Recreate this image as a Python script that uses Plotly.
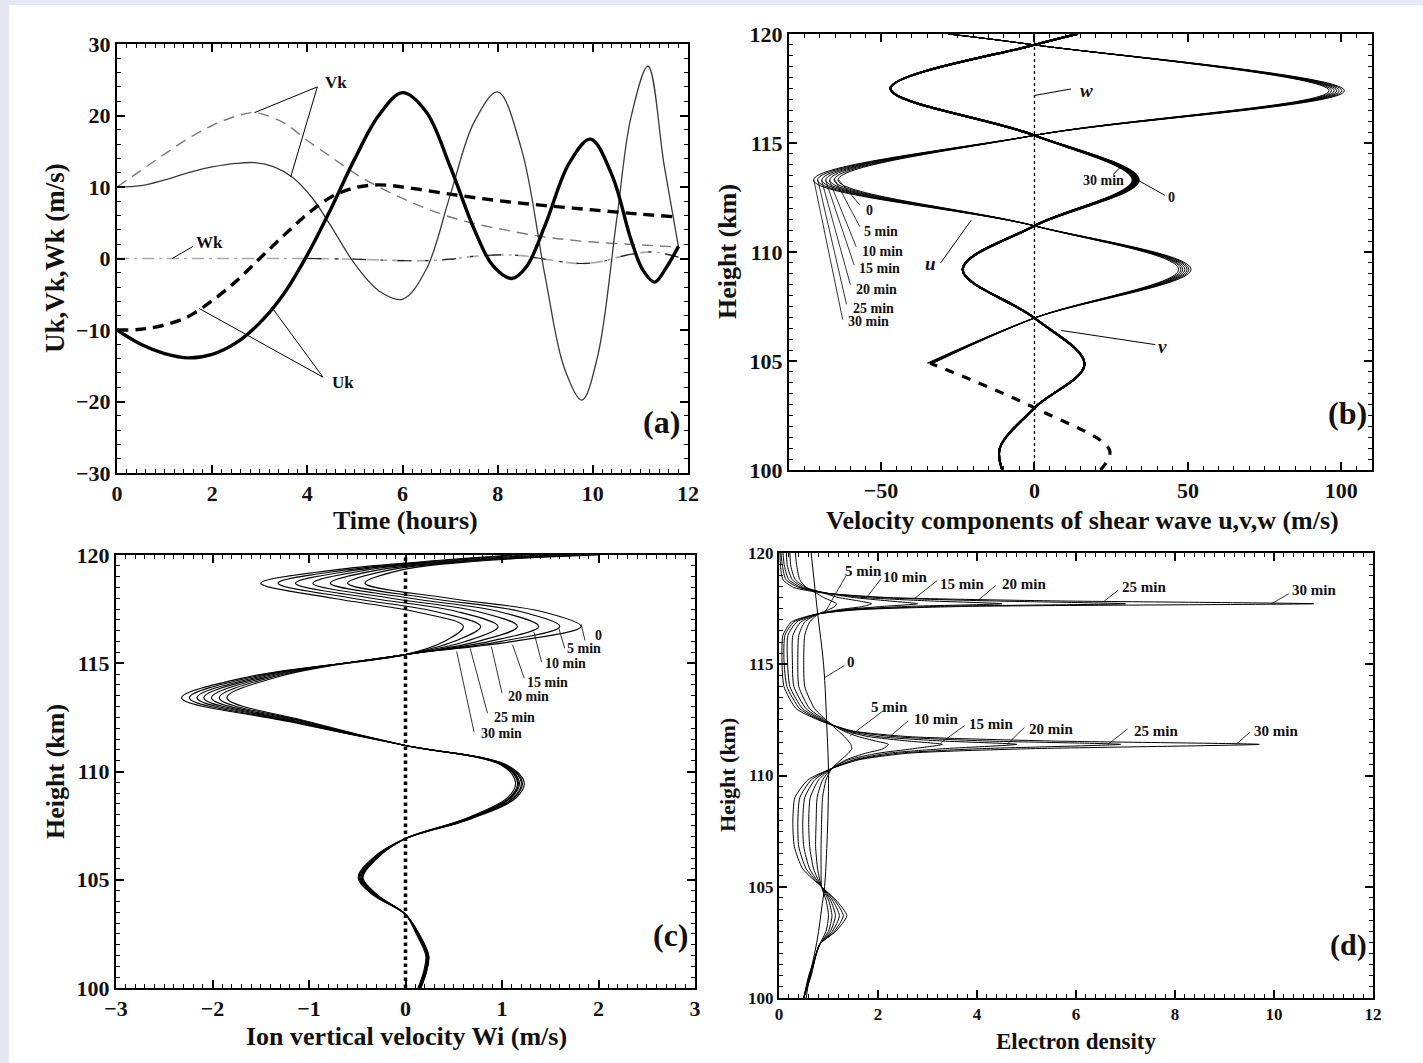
import plotly.graph_objects as go

W, H = 1423, 1063
FONT = "Liberation Serif"

# ---------------- panel (a) data ----------------
t_uk = [0, 0.5, 1, 1.5, 2, 2.5, 3, 3.5, 4, 4.5, 5, 5.5, 6, 6.5, 7, 7.5, 7.9, 8.3, 8.6, 9.0, 9.5, 9.95, 10.4, 10.8, 11.05, 11.3, 11.55, 11.8]
uk_solid = [-10, -12, -13.3, -13.9, -13.4, -11.8, -9, -5, 0.5, 7, 14, 20, 23.2, 20.5, 12.9, 4.2, -1, -2.8, -1.2, 4.7, 13.3, 16.7, 11.7, 2.7, -1.6, -3.3, -1.2, 1.7]

t_vk = [0, 0.5, 1, 1.5, 2, 2.5, 2.9, 3.3, 3.7, 4.1, 4.5, 5, 5.5, 6, 6.5, 7, 7.5, 8, 8.5, 9, 9.4, 9.77, 10.1, 10.5, 10.8, 11.16, 11.5, 11.8]
vk_solid = [10, 10.2, 11, 12, 12.8, 13.3, 13.4, 12.8, 11.3, 8.5, 4.5, -0.8, -4.5, -5.7, -1.5, 8.8, 19, 23.3, 15.3, -2.6, -15.3, -19.8, -13.7, 5.4, 19.7, 26.9, 13, 1.6]

t_vkd = [0, 0.5, 1, 1.5, 2, 2.5, 2.9, 3.5, 4, 4.5, 5, 5.5, 6, 6.5, 7, 7.5, 8, 9, 10, 11, 11.8]
vk_dashed = [10, 12.3, 14.6, 16.8, 18.6, 19.9, 20.4, 19, 16.5, 14.2, 11.9, 10, 8.4, 7, 5.8, 4.9, 4.2, 3.0, 2.3, 1.9, 1.6]

t_ukd = [0, 0.5, 1, 1.5, 2, 2.5, 3, 3.5, 4, 4.5, 5, 5.5, 6, 7, 8, 9, 10, 11, 11.8]
uk_dashed = [-10, -9.9, -9.3, -8.1, -5.9, -3.2, 0.0, 3.2, 6.2, 8.6, 9.9, 10.3, 10.0, 9.0, 8.1, 7.4, 6.8, 6.2, 5.8]

t_wk = [0, 1, 2, 3, 4, 5, 6, 6.5, 7, 7.5, 8, 8.5, 9, 9.4, 9.8, 10.2, 10.6, 11.0, 11.3, 11.8]
wk = [0, 0, 0, 0, 0, -0.1, -0.3, -0.3, -0.1, 0.3, 0.5, 0.4, -0.1, -0.5, -0.7, -0.4, 0.3, 0.8, 0.9, 0.2]

# ---------------- panel (b) data ----------------
times = ["0", "5 min", "10 min", "15 min", "20 min", "25 min", "30 min"]
hb_u = [104.9, 106.97, 109.2, 111.2, 113.3, 115.35, 117.4, 119.5, 120.0]
u_tip_105 = [-33, -33.3, -33.6, -34, -34.3, -34.6, -35]
u_tip_109 = [47, 47.7, 48.3, 49, 49.7, 50.3, 51]
u_tip_113 = [-64, -65.3, -66.7, -68, -69.3, -70.7, -72]
u_tip_117 = [96, 96.8, 97.7, 98.5, 99.3, 100.2, 101]
u_top = -28
hb_ud = [100.0, 100.9, 102.85, 104.9]
u_bottom = [21.5, 24.5, 0, -34]

hb_v = [100.0, 101.0, 102.85, 104.85, 106.97, 109.2, 111.2, 113.3, 115.35, 117.5, 119.5, 120.0]
v_base = [-10.5, -11.3, 0, 16.3, 0, -23.4, 0, 33.0, 0, -46.9, 0, 14]
v_tip_113 = [34, 33.7, 33.3, 33, 32.7, 32.3, 32]

# ---------------- panel (c) data ----------------
h_c = [100.0, 100.8, 101.5, 102.5, 103.4, 104.3, 105.1, 106.0, 106.9, 107.8, 108.8, 109.5, 110.3,
       111.2, 112.3, 113.4, 114.4, 115.4, 116.0, 116.7, 117.4, 118.0, 118.7, 119.3, 119.7, 120.0]
c_t0 = [0.13, 0.19, 0.21, 0.11, 0.0, -0.29, -0.44, -0.29, 0.0, 0.61, 1.06, 1.14, 0.99, 0.0, -1.0, -1.85, -1.30, 0.0, 1.10, 1.82, 1.40, 0.45, -0.42, -0.05, 0.70, 2.00]
c_t5 = [0.14, 0.20, 0.22, 0.12, 0.0, -0.30, -0.45, -0.30, 0.0, 0.62, 1.08, 1.16, 1.0, 0.0, -1.03, -1.93, -1.35, 0.0, 0.98, 1.60, 1.18, 0.25, -0.60, -0.17, 0.62, 1.85]
c_t10 = [0.14, 0.20, 0.22, 0.12, 0.0, -0.30, -0.45, -0.30, 0.0, 0.63, 1.09, 1.17, 1.01, 0.0, -1.07, -2.01, -1.40, 0.0, 0.86, 1.38, 0.96, 0.05, -0.78, -0.29, 0.53, 1.70]
c_t15 = [0.15, 0.21, 0.23, 0.13, 0.0, -0.31, -0.46, -0.31, 0.0, 0.64, 1.10, 1.18, 1.02, 0.0, -1.10, -2.09, -1.45, 0.0, 0.74, 1.16, 0.74, -0.15, -0.96, -0.41, 0.45, 1.55]
c_t20 = [0.15, 0.21, 0.23, 0.13, 0.0, -0.32, -0.47, -0.32, 0.0, 0.65, 1.12, 1.20, 1.03, 0.0, -1.13, -2.16, -1.50, 0.0, 0.62, 0.96, 0.52, -0.35, -1.14, -0.52, 0.37, 1.40]
c_t25 = [0.16, 0.22, 0.24, 0.14, 0.0, -0.33, -0.48, -0.33, 0.0, 0.66, 1.13, 1.21, 1.04, 0.0, -1.17, -2.24, -1.55, 0.0, 0.50, 0.78, 0.30, -0.55, -1.32, -0.63, 0.29, 1.25]
c_t30 = [0.16, 0.22, 0.24, 0.14, 0.0, -0.34, -0.49, -0.34, 0.0, 0.67, 1.15, 1.23, 1.05, 0.0, -1.20, -2.32, -1.60, 0.0, 0.40, 0.60, 0.08, -0.75, -1.50, -0.75, 0.20, 1.10]

# ---------------- panel (d) data ----------------
h_d0 = [100, 101, 102, 103, 104, 105, 107, 110, 112, 115, 117.3, 120]
d_t0 = [0.55, 0.62, 0.72, 0.80, 0.86, 0.92, 0.97, 1.0, 0.97, 0.90, 0.78, 0.65]
h_d = [100.0, 101.0, 102.4, 103.0, 103.7, 104.4, 105.0, 105.8, 106.8, 107.9, 109.0, 109.8, 110.3, 110.7,
       111.0, 111.2, 111.4, 111.55, 111.75, 112.0, 112.4, 113.0, 114.0, 115.2, 116.3, 116.9, 117.25,
       117.45, 117.6, 117.72, 117.85, 118.0, 118.2, 118.45, 118.8, 119.4, 120.0]
d_t5 = [0.50, 0.60, 0.82, 0.95, 1.00, 0.95, 0.86, 0.85, 0.85, 0.86, 0.88, 0.95, 1.06, 1.25, 1.4, 1.47, 1.45, 1.4, 1.32, 1.2, 1.0, 0.72, 0.52, 0.50, 0.52, 0.62, 0.79, 1.0, 1.13, 1.16, 1.05, 0.9, 0.75, 0.55, 0.42, 0.36, 0.33]
d_t10 = [0.50, 0.61, 0.82, 1.00, 1.07, 1.00, 0.86, 0.78, 0.74, 0.75, 0.77, 0.88, 1.06, 1.35, 1.75, 2.1, 2.21, 1.95, 1.6, 1.3, 1.0, 0.62, 0.40, 0.38, 0.40, 0.52, 0.78, 1.2, 1.7, 1.87, 1.6, 1.2, 0.9, 0.55, 0.33, 0.24, 0.22]
d_t15 = [0.50, 0.62, 0.82, 1.04, 1.14, 1.04, 0.86, 0.70, 0.62, 0.60, 0.63, 0.80, 1.05, 1.4, 2.0, 2.7, 3.3, 2.6, 1.8, 1.35, 0.97, 0.55, 0.30, 0.27, 0.28, 0.44, 0.78, 1.3, 2.1, 2.8, 2.2, 1.5, 0.95, 0.50, 0.27, 0.17, 0.15]
d_t20 = [0.50, 0.63, 0.82, 1.08, 1.22, 1.08, 0.86, 0.62, 0.50, 0.48, 0.52, 0.72, 1.05, 1.5, 2.2, 3.3, 4.8, 3.3, 2.0, 1.4, 0.95, 0.48, 0.22, 0.17, 0.18, 0.36, 0.77, 1.4, 2.6, 4.5, 3.0, 1.7, 0.95, 0.45, 0.2, 0.11, 0.08]
d_t25 = [0.50, 0.64, 0.82, 1.12, 1.30, 1.12, 0.86, 0.55, 0.40, 0.38, 0.42, 0.65, 1.05, 1.55, 2.4, 4.0, 6.9, 4.2, 2.3, 1.45, 0.92, 0.42, 0.16, 0.10, 0.12, 0.30, 0.76, 1.5, 3.2, 7.0, 4.2, 2.0, 0.95, 0.40, 0.14, 0.07, 0.04]
d_t30 = [0.50, 0.65, 0.82, 1.15, 1.37, 1.15, 0.86, 0.48, 0.31, 0.28, 0.32, 0.58, 1.05, 1.6, 2.6, 5.0, 9.7, 5.5, 2.6, 1.5, 0.9, 0.35, 0.1, 0.06, 0.08, 0.25, 0.75, 1.6, 3.8, 10.8, 5.5, 2.2, 0.9, 0.3, 0.08, 0.03, 0.02]

# ---------------- figure ----------------
fig = go.Figure()


def fx(px):
    return px / W


def fy(py):
    return 1 - py / H


def add_line(x, y, xa, ya, color="black", width=1.0, dash="solid", shape="spline", smoothing=1.0):
    fig.add_trace(go.Scatter(x=x, y=y, xaxis=xa, yaxis=ya, mode="lines",
                             line=dict(color=color, width=width, dash=dash, shape=shape, smoothing=smoothing),
                             showlegend=False, hoverinfo="skip"))


# (a)
add_line(t_wk, wk, "x", "y", color="#a8a8a8", width=1.6, dash="12px,5px,3px,5px")
add_line(t_wk[4:], wk[4:], "x", "y", color="#222222", width=1.2, dash="14px,14px,3px,14px")
add_line(t_vkd, vk_dashed, "x", "y", color="#7a7a7a", width=1.4, dash="11px,7px")
add_line(t_vk, vk_solid, "x", "y", color="#3a3a3a", width=1.3)
add_line(t_ukd, uk_dashed, "x", "y", color="black", width=3.4, dash="11px,7px")
add_line(t_uk, uk_solid, "x", "y", color="black", width=3.4)

# (b)
add_line([0, 0], [100, 120], "x2", "y2", color="black", width=1.3, dash="dot", shape="linear")
for i in range(len(times)):
    vv = list(v_base)
    vv[7] = v_tip_113[i]
    add_line(vv, hb_v, "x2", "y2", color="black", width=2.0)
for i in range(len(times)):
    uu = [u_tip_105[i], 0, u_tip_109[i], 0, u_tip_113[i], 0, u_tip_117[i], 0, u_top]
    add_line(uu, hb_u, "x2", "y2", color="black", width=1.0)
add_line(u_bottom, hb_ud, "x2", "y2", color="black", width=3.2, dash="9px,9px")

# (c)
add_line([0, 0], [100, 120], "x3", "y3", color="black", width=3.5, dash="dot", shape="linear")
for cv in [c_t0, c_t5, c_t10, c_t15, c_t20, c_t25, c_t30]:
    add_line(cv, h_c, "x3", "y3", color="black", width=1.1)

# (d)
add_line(d_t0, h_d0, "x4", "y4", color="black", width=1.0)
for dv in [d_t5, d_t10, d_t15, d_t20, d_t25, d_t30]:
    add_line(dv, h_d, "x4", "y4", color="black", width=1.0, smoothing=0.6)


def axis(dom, rng, dtick, minor_dtick, fsize, anchor):
    return dict(domain=dom, range=rng, dtick=dtick, tick0=0, anchor=anchor, automargin=False,
                showline=True, linecolor="black", linewidth=2, mirror="ticks",
                ticks="inside", ticklen=8, tickwidth=1.5, tickcolor="black",
                showgrid=False, zeroline=False, fixedrange=True,
                minor=dict(ticks="inside", ticklen=4, dtick=minor_dtick, tickcolor="black",
                           tickwidth=1, showgrid=False),
                tickfont=dict(family=FONT, size=fsize, color="#111111", weight="bold"))


fig.update_layout(
    template="none",
    width=W, height=H, autosize=False,
    margin=dict(l=0, r=0, t=0, b=0, pad=0, autoexpand=False),
    paper_bgcolor="#e5e7f3", plot_bgcolor="white",
    xaxis=axis([fx(117), fx(688)], [0, 12], 2, 0.2, 22, "y"),
    yaxis=axis([fy(473), fy(44)], [-30, 30], 10, 2, 22, "x"),
    xaxis2=axis([fx(789), fx(1372)], [-80, 110], 50, 5, 22, "y2"),
    yaxis2=axis([fy(470), fy(34)], [100, 120], 5, 0.5, 22, "x2"),
    xaxis3=axis([fx(116), fx(695)], [-3, 3], 1, 0.1, 22, "y3"),
    yaxis3=axis([fy(988), fy(555)], [100, 120], 5, 0.5, 22, "x3"),
    xaxis4=axis([fx(779), fx(1373)], [0, 12], 2, 0.2, 17, "y4"),
    yaxis4=axis([fy(998), fy(553)], [100, 120], 5, 0.5, 17, "x4"),
)

shapes = [dict(type="rect", xref="paper", yref="paper", x0=9 / W, x1=1, y0=0, y1=1 - 5 / H,
               fillcolor="white", line=dict(width=0), layer="below")]


def seg(xr, yr, x0, y0, x1, y1, w=1.0):
    shapes.append(dict(type="line", xref=xr, yref=yr, x0=x0, y0=y0, x1=x1, y1=y1,
                       line=dict(color="black", width=w)))


annots = []


def lab(xr, yr, x, y, text, size, italic=False, xanchor="center", bold=True):
    annots.append(dict(xref=xr, yref=yr, x=x, y=y, text=text, showarrow=False,
                       xanchor=xanchor, yanchor="middle",
                       font=dict(family=FONT, size=size, color="#111111",
                                 weight="bold" if bold else "normal",
                                 style="italic" if italic else "normal")))


def title(xpx, ypx, text, size, angle=0):
    annots.append(dict(xref="paper", yref="paper", x=fx(xpx), y=fy(ypx), text=text, showarrow=False,
                       xanchor="center", yanchor="middle", textangle=angle,
                       font=dict(family=FONT, size=size, color="#111111", weight="bold")))


# (a) labels
seg("x", "y", 4.21, 24.0, 2.89, 20.4)
seg("x", "y", 4.21, 24.0, 3.65, 11.4)
seg("x", "y", 4.33, -16.6, 1.73, -7.0)
seg("x", "y", 4.33, -16.6, 3.25, -6.8)
seg("x", "y", 1.6, 1.7, 1.16, 0.0)
lab("x", "y", 4.6, 24.6, "Vk", 17)
lab("x", "y", 4.75, -17.3, "Uk", 17)
lab("x", "y", 1.94, 2.2, "Wk", 17)
lab("x", "y", 11.45, -22.9, "(a)", 32)

# (b) labels
seg("x2", "y2", 0, 117.18, 11.9, 117.48)
lab("x2", "y2", 17.0, 117.4, "w", 19, italic=True)
seg("x2", "y2", 25.6, 113.55, 28.1, 113.9)
lab("x2", "y2", 22.5, 113.3, "30 min", 14)
seg("x2", "y2", 33.75, 113.29, 42.5, 112.6)
lab("x2", "y2", 44.6, 112.5, "0", 14)
seg("x2", "y2", -30.6, 109.5, -20.6, 111.46)
lab("x2", "y2", -33.8, 109.45, "u", 19, italic=True)
seg("x2", "y2", 39.4, 105.75, 8.75, 106.4)
lab("x2", "y2", 41.6, 105.65, "v", 19, italic=True)
b_lab_x = [-53.75, -50.0, -49.4, -50.6, -51.6, -52.5, -54.1]
b_lab_y = [111.92, 110.96, 110.0, 109.25, 108.26, 107.4, 106.8]
b_lead0 = [(-56.9, 112.15), (-56.9, 111.16), (-58.1, 110.24), (-58.75, 109.4), (-60.0, 108.5), (-61.25, 107.6), (-62.5, 106.9)]
b_tip_x = [-63.75, -65.0, -66.9, -68.1, -69.4, -70.6, -71.9]
for i, tx in enumerate(times):
    seg("x2", "y2", b_lead0[i][0], b_lead0[i][1], b_tip_x[i], 113.3, w=0.8)
    lab("x2", "y2", b_lab_x[i], b_lab_y[i], tx, 14)
lab("x2", "y2", 102.0, 102.6, "(b)", 32)

# (c) labels
c_lab = [(2.0, 116.3), (1.85, 115.66), (1.66, 114.98), (1.47, 114.1), (1.27, 113.46), (1.13, 112.5), (0.99, 111.77)]
c_lead = [((1.86, 116.05), (1.82, 116.8)), ((1.65, 115.69), (1.59, 116.6)), ((1.41, 115.05), (1.33, 116.45)),
          ((1.23, 114.31), (1.11, 115.85)), ((1.0, 113.62), (0.89, 115.77)), ((0.85, 112.69), (0.67, 115.69)),
          ((0.71, 111.83), (0.53, 115.54))]
for i, tx in enumerate(times):
    (a0, a1), (b0, b1) = c_lead[i]
    seg("x3", "y3", a0, a1, b0, b1, w=0.8)
    lab("x3", "y3", c_lab[i][0], c_lab[i][1], tx, 14)
lab("x3", "y3", 2.75, 102.46, "(c)", 32)

# (d) labels
d_up_lab = [(1.71, 119.2), (2.55, 118.92), (3.7, 118.62), (4.95, 118.62), (7.38, 118.47), (10.8, 118.32)]
d_up_lead = [((1.36, 119.0), (0.93, 117.34)), ((2.06, 118.84), (1.75, 117.94)), ((3.2, 118.77), (2.73, 117.94)),
             ((4.38, 118.54), (4.02, 117.87)), ((6.85, 118.32), (6.57, 117.84)), ((10.3, 118.17), (9.95, 117.72))]
d_lo_lab = [(2.24, 113.06), (3.18, 112.54), (4.28, 112.31), (5.49, 112.09), (7.61, 112.01), (10.04, 112.01)]
d_lo_lead = [((2.1, 112.9), (1.44, 111.79)), ((2.61, 112.46), (2.26, 111.79)), ((3.75, 112.24), (3.28, 111.49)),
             ((4.96, 112.16), (4.61, 111.41)), ((7.04, 112.09), (6.65, 111.41)), ((9.51, 111.94), (9.24, 111.41))]
for i, tx in enumerate(times[1:]):
    (a0, a1), (b0, b1) = d_up_lead[i]
    seg("x4", "y4", a0, a1, b0, b1, w=0.8)
    lab("x4", "y4", d_up_lab[i][0], d_up_lab[i][1], tx, 15)
    (a0, a1), (b0, b1) = d_lo_lead[i]
    seg("x4", "y4", a0, a1, b0, b1, w=0.8)
    lab("x4", "y4", d_lo_lab[i][0], d_lo_lab[i][1], tx, 15)
seg("x4", "y4", 1.32, 114.94, 0.93, 114.41, w=0.8)
lab("x4", "y4", 1.46, 115.09, "0", 15)
lab("x4", "y4", 11.5, 102.4, "(d)", 30)

# axis titles
title(55, 258, "Uk,Vk,Wk (m/s)", 27, -90)
title(405, 520, "Time (hours)", 26)
title(728, 252, "Height (km)", 26, -90)
title(1082, 520, "Velocity components of shear wave u,v,w (m/s)", 26)
title(55, 772, "Height (km)", 26, -90)
title(406, 1036, "Ion vertical velocity Wi (m/s)", 26)
title(727, 775, "Height (km)", 22, -90)
title(1076, 1041, "Electron density", 23)

fig.update_layout(shapes=shapes, annotations=annots)
fig.write_html("out.html")
